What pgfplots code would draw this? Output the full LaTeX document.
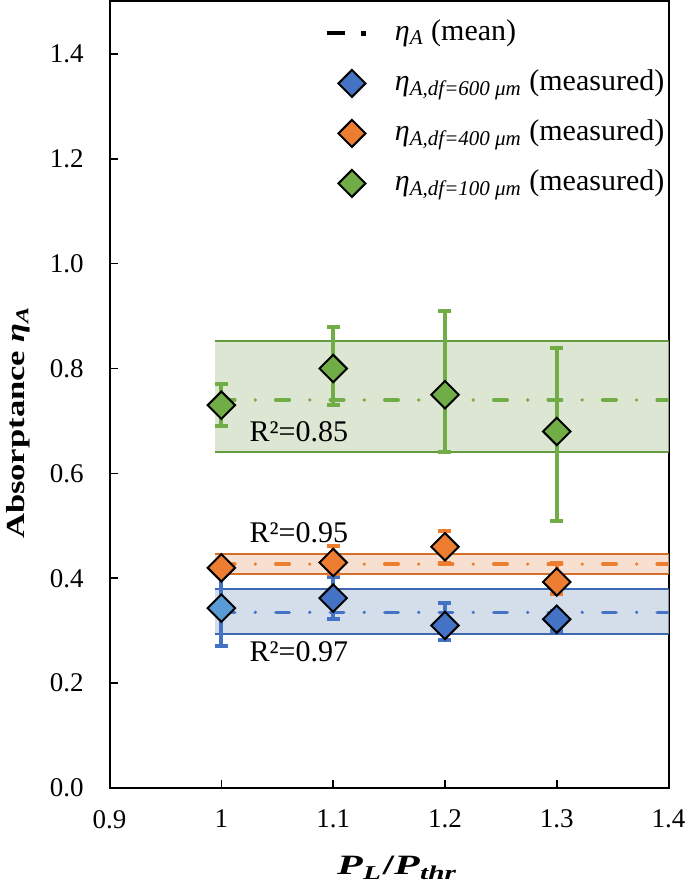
\documentclass[border=0pt]{standalone}
\usepackage{fontspec}
\setmainfont{Liberation Serif}
\usepackage{pgfplots}
\usepackage{pgfplotstable}
\pgfplotsset{compat=1.18}
\usetikzlibrary{calc}

\definecolor{cgreen}{HTML}{70AD47}
\definecolor{corange}{HTML}{ED7D31}
\definecolor{cblue}{HTML}{4472C4}
\definecolor{clblue}{HTML}{5B9BD5}
\definecolor{bgreen}{RGB}{221,230,211}
\definecolor{borange}{RGB}{248,224,208}
\definecolor{bblue}{RGB}{212,221,234}

\pgfplotstableread{
x y ep em
1.1 0.362 0.040 0.040
1.2 0.310 0.042 0.027
1.3 0.322 0.015 0.022
}\blue
\pgfplotstableread{
x y ep em
1.0 0.343 0.067 0.072
}\bluefirst
\pgfplotstableread{
x y ep em
1.0 0.420 0.000 0.000
1.1 0.430 0.031 0.022
1.2 0.460 0.030 0.030
1.3 0.393 0.037 0.023
}\orange
\pgfplotstableread{
x y ep em
1.0 0.730 0.040 0.040
1.1 0.800 0.080 0.070
1.2 0.750 0.160 0.110
1.3 0.680 0.160 0.170
}\green

\pgfplotsset{
  meanline/.style={line width=1.8pt, line cap=round,
    dash pattern=on 6.7pt off 10.27pt on 0pt off 10.27pt},
  diam/.style={only marks, mark=square*, mark size=4.85pt,
    mark options={rotate=45, draw=black, line width=1pt, fill=#1}},
  ebars/.style={/pgfplots/error bars/y dir=both, /pgfplots/error bars/y explicit,
    /pgfplots/error bars/error bar style={color=#1, line width=2pt},
    /pgfplots/error bars/error mark options={rotate=90, mark size=3.25pt, line width=2pt, color=#1}},
  legdiam/.style={legend image code/.code={
    \path[draw=none, fill=none] (0pt,-1pt) rectangle (29pt,1pt);
    \draw[black, solid, line width=1pt, fill=#1] (12.5pt,-6.75pt) -- ++(6.75pt,6.75pt) -- ++(-6.75pt,6.75pt) -- ++(-6.75pt,-6.75pt) -- cycle;}},
}

\begin{document}
\begin{tikzpicture}
\begin{axis}[
  scale only axis, width=279.5pt, height=393.25pt,
  xmin=0.9, xmax=1.4, ymin=0, ymax=1.5,
  xtick={0.9,1,1.1,1.2,1.3,1.4},
  ytick={0,0.2,0.4,0.6,0.8,1.0,1.2,1.4},
  tick pos=left,
  major tick length=4pt,
  tick style={black, line width=0.8pt},
  axis line style={line width=1pt},
  /pgf/number format/assume math mode=true,
  tick label style={font=\fontsize{13.5}{15}\selectfont},
  yticklabel style={/pgf/number format/fixed, /pgf/number format/fixed zerofill,
    /pgf/number format/precision=1, xshift=-9.5pt},
  xticklabel style={yshift=-7.5pt},
  xlabel={\fontsize{14}{16}\selectfont\bfseries\scalebox{1.5}[1]{\textit{P}\textsubscript{\textit{L}}/\textit{P}\textsubscript{\textit{thr}}}},
  xlabel style={at={(axis description cs:0.515,-0.1017)}, anchor=center},
  ylabel={\fontsize{13}{15}\selectfont\bfseries\scalebox{1.33}[1]{Absorptance \textit{η}\textsubscript{\textit{A}}}},
  ylabel style={at={(axis description cs:-0.163,0.465)}, anchor=center},
  legend style={draw=none, fill=none, font=\fontsize{15}{18}\selectfont,
    at={(rel axis cs:0.3846,1)}, anchor=north west, yshift=-3.25pt,
    inner sep=0pt, row sep=0pt, column sep=0pt,
    nodes={text height=11pt, text depth=4pt, inner sep=5pt}},
  legend cell align=left,
  clip=true,
]
% bands
\addplot[draw=none, fill=bgreen, forget plot] coordinates {(0.994,0.641) (1.4,0.641) (1.4,0.852) (0.994,0.852)} -- cycle;
\addplot[draw=none, fill=borange, forget plot] coordinates {(0.994,0.408) (1.4,0.408) (1.4,0.446) (0.994,0.446)} -- cycle;
\addplot[draw=none, fill=bblue, forget plot] coordinates {(0.994,0.294) (1.4,0.294) (1.4,0.379) (0.994,0.379)} -- cycle;
\addplot[cgreen!90!black, line width=1pt, forget plot] coordinates {(0.994,0.852) (1.4,0.852)};
\addplot[cgreen!90!black, line width=1pt, forget plot] coordinates {(0.994,0.641) (1.4,0.641)};
\addplot[corange!90!black, line width=1pt, forget plot] coordinates {(0.994,0.446) (1.4,0.446)};
\addplot[corange!90!black, line width=1pt, forget plot] coordinates {(0.994,0.408) (1.4,0.408)};
\addplot[cblue!90!black, line width=1pt, forget plot] coordinates {(0.994,0.379) (1.4,0.379)};
\addplot[cblue!90!black, line width=1pt, forget plot] coordinates {(0.994,0.294) (1.4,0.294)};
% mean lines
\addplot[cgreen, meanline, forget plot] coordinates {(1.0,0.740) (1.4,0.740)};
\addplot[corange, meanline, forget plot] coordinates {(1.0,0.427) (1.4,0.427)};
\addplot[cblue, meanline, forget plot] coordinates {(1.0,0.335) (1.4,0.335)};
% measured points
\addplot[forget plot, diam=clblue, ebars=cblue] table[x=x, y=y, y error plus=ep, y error minus=em] {\bluefirst};
\addplot[forget plot, diam=cblue, ebars=cblue] table[x=x, y=y, y error plus=ep, y error minus=em] {\blue};
\addplot[forget plot, diam=corange, ebars=corange] table[x=x, y=y, y error plus=ep, y error minus=em] {\orange};
\addplot[forget plot, diam=cgreen, ebars=cgreen] table[x=x, y=y, y error plus=ep, y error minus=em] {\green};
% R^2 labels
\node[anchor=base west, font=\fontsize{15}{18}\selectfont, inner sep=0pt] at (axis cs:1.025,0.660) {R²=0.85};
\node[anchor=base west, font=\fontsize{15}{18}\selectfont, inner sep=0pt] at (axis cs:1.025,0.469) {R²=0.95};
\node[anchor=base west, font=\fontsize{15}{18}\selectfont, inner sep=0pt] at (axis cs:1.025,0.241) {R²=0.97};
% legend
\addlegendimage{legend image code/.code={
  \path[draw=none, fill=none] (0pt,-1pt) rectangle (29pt,1pt);
  \draw[black, solid, line width=2pt] (0pt,0pt) -- (9pt,0pt);
  \fill[black] (17pt,-1.2pt) rectangle (19.4pt,1.2pt);}}
\addlegendentry{\textit{η}\textsubscript{\textit{A}} (mean)}
\addlegendimage{legdiam=cblue}
\addlegendentry{\textit{η}\textsubscript{\textit{A,df=600 μm}} (measured)}
\addlegendimage{legdiam=corange}
\addlegendentry{\textit{η}\textsubscript{\textit{A,df=400 μm}} (measured)}
\addlegendimage{legdiam=cgreen}
\addlegendentry{\textit{η}\textsubscript{\textit{A,df=100 μm}} (measured)}
\end{axis}
\path ($(current axis.south west)+(-53.5pt,-51.5pt)$) rectangle ($(current axis.north east)+(9.5pt,0.75pt)$);
\end{tikzpicture}
\end{document}
